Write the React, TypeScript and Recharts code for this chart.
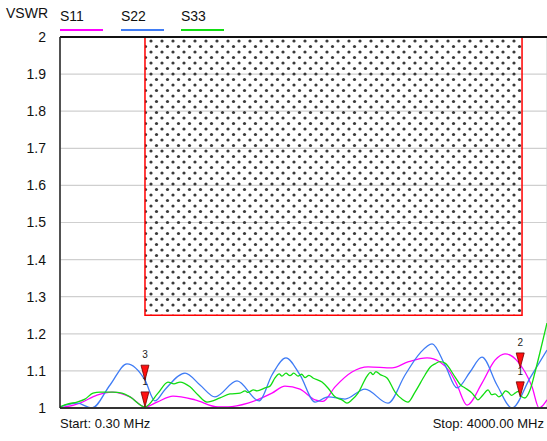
import React from "react";
import {
  LineChart,
  Line,
  XAxis,
  YAxis,
  CartesianGrid,
  ReferenceArea,
  ReferenceDot,
  ReferenceLine,
} from "recharts";

// [MHz, VSWR] pairs
const s11Points: [number, number][] = [
  [0.3, 1.0], [164, 1.013], [304, 1.035], [427, 1.043], [575, 1.03], [698, 1.003],
  [797, 1.016], [928, 1.032], [1109, 1.022], [1298, 1.003], [1380, 1.003], [1544, 1.013],
  [1741, 1.04], [1848, 1.059], [1971, 1.051], [2095, 1.022], [2160, 1.018], [2259, 1.057],
  [2398, 1.097], [2530, 1.111], [2727, 1.108], [2858, 1.124], [3015, 1.135], [3121, 1.124],
  [3203, 1.097], [3261, 1.062], [3343, 1.008], [3466, 1.067], [3573, 1.129], [3655, 1.146],
  [3760, 1.125], [3877, 1.057], [3935, 1.0], [4000, 1.022],
];

const s22Points: [number, number][] = [
  [0.3, 1.003], [140, 1.013], [263, 1.0], [411, 1.062], [550, 1.119], [698, 1.075],
  [780, 1.019], [863, 1.05], [1027, 1.094], [1150, 1.062], [1273, 1.03], [1454, 1.073],
  [1635, 1.019], [1741, 1.089], [1856, 1.135], [1971, 1.089], [2095, 1.016], [2201, 1.03],
  [2341, 1.024], [2505, 1.051], [2694, 1.013], [2834, 1.089], [2957, 1.148], [3056, 1.173],
  [3162, 1.116], [3261, 1.054], [3368, 1.097], [3466, 1.137], [3589, 1.062], [3713, 1.0],
  [3861, 1.081], [4000, 1.156],
];

const s33Points: [number, number][] = [
  [0.3, 1.003], [66, 1.011], [140, 1.016], [205, 1.024], [271, 1.04], [329, 1.043],
  [435, 1.043], [509, 1.04], [575, 1.03], [698, 1.003], [805, 1.04], [887, 1.07],
  [936, 1.065], [986, 1.07], [1068, 1.057], [1134, 1.035], [1207, 1.016], [1314, 1.027],
  [1396, 1.038], [1479, 1.04], [1520, 1.046], [1544, 1.042], [1590, 1.049], [1618, 1.046],
  [1684, 1.054], [1725, 1.059], [1766, 1.081], [1800, 1.092], [1823, 1.086], [1856, 1.094],
  [1889, 1.087], [1920, 1.094], [1955, 1.086], [1985, 1.091], [2012, 1.082], [2045, 1.088],
  [2078, 1.081], [2152, 1.07], [2201, 1.054], [2259, 1.03], [2316, 1.022], [2357, 1.013],
  [2398, 1.022], [2448, 1.04], [2522, 1.086], [2550, 1.096], [2571, 1.09], [2595, 1.098],
  [2630, 1.09], [2686, 1.081], [2752, 1.043], [2809, 1.024], [2858, 1.016], [2916, 1.043],
  [2998, 1.089], [3040, 1.11], [3080, 1.119], [3120, 1.125], [3162, 1.121], [3244, 1.084],
  [3290, 1.062], [3327, 1.054], [3384, 1.04], [3410, 1.03], [3433, 1.022], [3474, 1.035],
  [3516, 1.049], [3545, 1.036], [3573, 1.038], [3605, 1.03], [3630, 1.035], [3660, 1.046],
  [3680, 1.043], [3710, 1.034], [3737, 1.04], [3765, 1.045], [3787, 1.032], [3819, 1.027],
  [3861, 1.049], [3902, 1.097], [3943, 1.151], [4000, 1.229],
];

const xTicks = [0, 400, 800, 1200, 1600, 2000, 2400, 2800, 3200, 3600, 4000];
const yTicks = [1, 1.1, 1.2, 1.3, 1.4, 1.5, 1.6, 1.7, 1.8, 1.9, 2];

// limit mask region
const maskX = [698, 3795];
const maskY = [1.25, 2];

// markers: label, MHz, VSWR
const markers: [string, number, number][] = [
  ["1", 698, 1.003],
  ["1", 3780, 1.03],
  ["2", 3780, 1.108],
  ["3", 698, 1.075],
];

const legend = [
  { name: "S11", color: "#ff00ff", left: 60 },
  { name: "S22", color: "#3f7cf5", left: 121 },
  { name: "S33", color: "#11dd11", left: 181 },
];

const toRows = (pts: [number, number][]) => pts.map(([f, v]) => ({ f, v }));

const MarkerShape = (label: string) => (props: any) => {
  const { cx, cy } = props;
  return (
    <g>
      <text x={cx} y={cy - 22} textAnchor="middle" fontSize={10} fill="#222" fontFamily="Liberation Sans, Arial">
        {label}
      </text>
      <polygon
        points={`${cx - 4},${cy - 15} ${cx + 4},${cy - 15} ${cx},${cy}`}
        fill="#ff1010"
        stroke="#6a0000"
        strokeWidth={0.8}
      />
    </g>
  );
};

const font = "Liberation Sans, Arial, sans-serif";

export default function App() {
  return (
    <div style={{ position: "absolute", left: 0, top: 0, width: 547, height: 441, background: "#fff", overflow: "hidden", fontFamily: font }}>
      <div style={{ position: "absolute", left: 6, top: 5, fontSize: 14, color: "#111" }}>VSWR</div>
      {legend.map((l) => (
        <div key={l.name} style={{ position: "absolute", left: l.left, top: 8 }}>
          <div style={{ fontSize: 14, color: "#111", lineHeight: "16px" }}>{l.name}</div>
          <div style={{ width: 43, height: 2, background: l.color, marginTop: 5 }} />
        </div>
      ))}
      <div style={{ position: "absolute", left: 60, top: 416, fontSize: 13, color: "#111" }}>Start: 0.30 MHz</div>
      <div style={{ position: "absolute", right: 3, top: 416, fontSize: 13, color: "#111" }}>Stop: 4000.00 MHz</div>
      <div style={{ position: "absolute", left: 0, top: 0 }}>
        <LineChart width={548} height={441} margin={{ top: 37, right: 1, bottom: 0, left: 0 }}>
          <defs>
            <pattern id="dots" width="11" height="11" patternUnits="userSpaceOnUse">
              <circle cx="2.5" cy="2.5" r="1.6" fill="#3a3a3a" />
              <circle cx="8" cy="8" r="1.6" fill="#3a3a3a" />
            </pattern>
          </defs>
          <CartesianGrid stroke="#cfcfcf" strokeWidth={1.2} />
          <XAxis
            type="number"
            dataKey="f"
            domain={[0, 4000]}
            ticks={xTicks}
            tick={false}
            tickLine={false}
            height={33}
            axisLine={{ stroke: "#333", strokeWidth: 2 }}
            allowDataOverflow
          />
          <YAxis
            type="number"
            dataKey="v"
            domain={[1, 2]}
            ticks={yTicks}
            width={60}
            tickLine={false}
            tickMargin={8}
            axisLine={{ stroke: "#222", strokeWidth: 1.5 }}
            tick={{ fontSize: 14, fill: "#111", fontFamily: font }}
            tickFormatter={(v: number) => String(Math.round(v * 10) / 10)}
            allowDataOverflow
          />
          <ReferenceArea
            x1={maskX[0]}
            x2={maskX[1]}
            y1={maskY[0]}
            y2={maskY[1]}
            fill="url(#dots)"
            fillOpacity={1}
            stroke="#ff0000"
            strokeWidth={1.5}
          />
          <ReferenceLine y={2} stroke="#111" strokeWidth={2} />
          <Line data={toRows(s11Points)} dataKey="v" type="monotone" stroke="#ff00ff" strokeWidth={1.3} dot={false} isAnimationActive={false} />
          <Line data={toRows(s22Points)} dataKey="v" type="monotone" stroke="#3f7cf5" strokeWidth={1.3} dot={false} isAnimationActive={false} />
          <Line data={toRows(s33Points)} dataKey="v" type="monotone" stroke="#11dd11" strokeWidth={1.3} dot={false} isAnimationActive={false} />
          {markers.map(([label, f, v], i) => (
            <ReferenceDot key={i} x={f} y={v} r={0} ifOverflow="visible" shape={MarkerShape(label)} />
          ))}
        </LineChart>
      </div>
    </div>
  );
}
